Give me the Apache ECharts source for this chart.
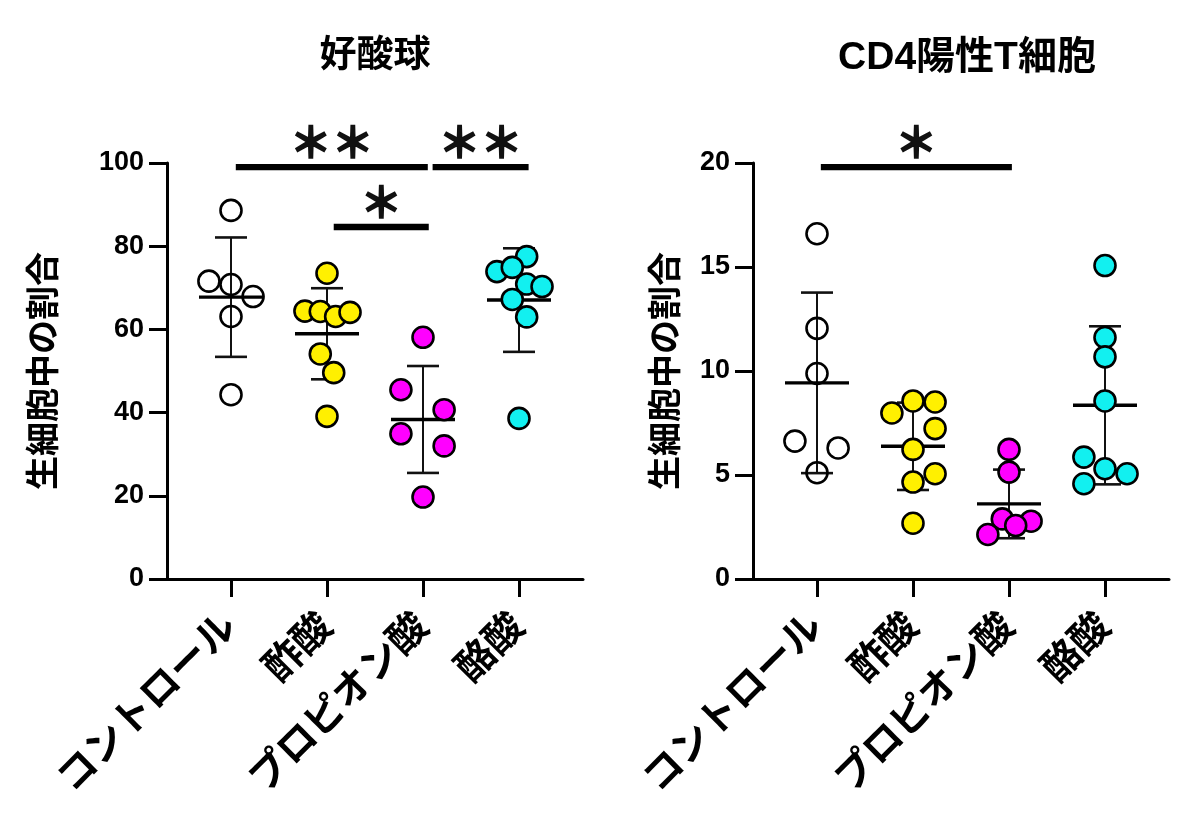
<!DOCTYPE html>
<html>
<head>
<meta charset="utf-8">
<script src="https://cdn.jsdelivr.net/npm/echarts@6/dist/echarts.min.js"></script>
<style>
html,body{margin:0;padding:0;background:#fff;}
#chart{width:1200px;height:817px;}
</style>
</head>
<body>
<div id="chart"></div>
<script>
// ---------- data ----------
const categories = ['コントロール', '酢酸', 'プロピオン酸', '酪酸'];
const titles = ['好酸球', 'CD4陽性T細胞'];
const yAxisName = '生細胞中の割合';
const eosTicks = { min: 0, max: 100, interval: 20 };
const cd4Ticks = { min: 0, max: 20, interval: 5 };

// each point: [horizontal jitter (category units), value]
const eosControl   = [[0, 88.6], [-0.23, 71.6], [0, 70.8], [0.23, 67.9], [0, 63.1], [0, 44.3]];
const eosAcetic    = [[0, 73.5], [-0.23, 64.4], [-0.07, 64.3], [0.09, 63.1], [0.24, 64.1], [-0.07, 54.1], [0.07, 49.6], [0, 39.1]];
const eosPropionic = [[0, 58.1], [-0.23, 45.5], [0.22, 40.7], [-0.23, 34.9], [0.22, 32.0], [0, 19.7]];
const eosButyric   = [[0.08, 77.5], [-0.23, 73.9], [-0.07, 74.9], [0.08, 70.9], [0.24, 70.3], [-0.07, 67.2], [0.08, 63.0], [0, 38.6]];
const eosMean = [67.75, 58.95, 38.35, 67.05];
const eosSD   = [14.35, 10.95, 12.85, 12.45];

const cd4Control   = [[0, 16.6], [0, 12.05], [0, 9.88], [-0.23, 6.63], [0.22, 6.30], [0, 5.11]];
const cd4Acetic    = [[-0.22, 7.98], [0, 8.56], [0.23, 8.51], [0.23, 7.23], [0, 6.23], [0.23, 5.06], [0, 4.66], [0, 2.68]];
const cd4Propionic = [[0, 6.23], [0, 5.14], [-0.07, 2.89], [0.23, 2.78], [0.07, 2.57], [-0.22, 2.14]];
const cd4Butyric   = [[0, 15.07], [0, 11.61], [0, 10.68], [0, 8.56], [-0.22, 5.86], [0, 5.30], [0.23, 5.06], [-0.22, 4.58]];
const cd4Mean = [9.43, 6.38, 3.61, 8.35];
const cd4SD   = [4.34, 2.10, 1.65, 3.80];

// significance bars: [x start, x end, y, label]
const eosSig = [[1.05, 3.05, 99.0, '＊＊'], [3.10, 4.10, 99.0, '＊＊'], [2.07, 3.06, 84.6, '＊']];
const cd4Sig = [[1.04, 3.03, 19.8, '＊']];

const groupColors = ['rgba(255,255,255,0)', '#FFF000', '#FF00FF', '#12F0F0'];

// ---------- chart ----------
const FONT = '"Liberation Sans", "Noto Sans CJK JP", Arial, sans-serif';
const chart = echarts.init(document.getElementById('chart'));

function xAxisFor(gridIndex) {
  return {
    type: 'value', gridIndex: gridIndex,
    min: 1 - 2 / 3, max: 4 + 2 / 3,
    splitLine: { show: false },
    axisLine: { show: true, lineStyle: { color: '#000', width: 3 } },
    axisTick: { show: true, customValues: [1, 2, 3, 4], length: 18, lineStyle: { color: '#000', width: 3 } },
    axisLabel: {
      customValues: [1, 2, 3, 4],
      formatter: v => categories[Math.round(v) - 1],
      rotate: 45, margin: 42,
      fontFamily: FONT, fontWeight: 'bold', fontSize: 39, color: '#000'
    }
  };
}
function yAxisFor(gridIndex, t, gap) {
  return {
    type: 'value', gridIndex: gridIndex,
    min: t.min, max: t.max, interval: t.interval,
    name: yAxisName, nameLocation: 'middle', nameGap: gap, nameRotate: 90,
    nameTextStyle: { fontFamily: FONT, fontWeight: 'bold', fontSize: 34, color: '#000' },
    splitLine: { show: false },
    axisLine: { show: true, lineStyle: { color: '#000', width: 3 } },
    axisTick: { show: true, length: 18, lineStyle: { color: '#000', width: 3 } },
    axisLabel: { margin: 23, fontFamily: FONT, fontWeight: 'bold', fontSize: 27, color: '#000' }
  };
}

function errorSeries(gridIndex, means, sds) {
  return {
    type: 'custom', xAxisIndex: gridIndex, yAxisIndex: gridIndex, z: 2,
    data: means.map((m, i) => [i + 1, m, sds[i]]),
    renderItem: function (params, api) {
      const x = api.value(0), m = api.value(1), s = api.value(2);
      const pm = api.coord([x, m]);
      const pt = api.coord([x, m + s]);
      const pb = api.coord([x, m - s]);
      return {
        type: 'group',
        children: [
          { type: 'line', shape: { x1: pm[0], y1: pt[1], x2: pm[0], y2: pb[1] }, style: { stroke: '#111', lineWidth: 2 } },
          { type: 'line', shape: { x1: pm[0] - 16, y1: pt[1], x2: pm[0] + 16, y2: pt[1] }, style: { stroke: '#111', lineWidth: 2.6 } },
          { type: 'line', shape: { x1: pm[0] - 16, y1: pb[1], x2: pm[0] + 16, y2: pb[1] }, style: { stroke: '#111', lineWidth: 2.6 } },
          { type: 'line', shape: { x1: pm[0] - 32, y1: pm[1], x2: pm[0] + 32, y2: pm[1] }, style: { stroke: '#000', lineWidth: 3.4 } }
        ]
      };
    }
  };
}

function pointSeries(gridIndex, groups) {
  return groups.map((g, i) => ({
    type: 'scatter', xAxisIndex: gridIndex, yAxisIndex: gridIndex, z: 3,
    symbol: 'circle', symbolSize: 21,
    itemStyle: { color: groupColors[i], borderColor: '#000', borderWidth: 2.6, opacity: 1 },
    emphasis: { disabled: true },
    data: g.map(p => [i + 1 + p[0], p[1]])
  }));
}

function sigSeries(gridIndex, bars) {
  return {
    type: 'custom', xAxisIndex: gridIndex, yAxisIndex: gridIndex, z: 4, clip: false,
    data: bars.map(b => [b[0], b[1], b[2]]),
    renderItem: function (params, api) {
      const b = bars[params.dataIndex];
      const p1 = api.coord([b[0], b[2]]);
      const p2 = api.coord([b[1], b[2]]);
      return {
        type: 'group',
        children: [
          { type: 'rect', shape: { x: p1[0], y: p1[1] - 3.2, width: p2[0] - p1[0], height: 6.4 }, style: { fill: '#000' } },
          { type: 'text', style: { x: (p1[0] + p2[0]) / 2, y: p1[1] - 25, text: b[3], align: 'center', verticalAlign: 'middle',
              font: 'bold 42px "Noto Sans CJK JP", sans-serif', fill: '#111', stroke: '#111', lineWidth: 1.6 } }
        ]
      };
    }
  };
}

const option = {
  backgroundColor: '#fff',
  animation: false,
  title: [
    { text: titles[0], left: 370, top: 33, textAlign: 'center',
      textStyle: { fontFamily: FONT, fontWeight: 'bold', fontSize: 37, color: '#000' } },
    { text: titles[1], left: 962, top: 34, textAlign: 'center',
      textStyle: { fontFamily: FONT, fontWeight: 'bold', fontSize: 39, color: '#000' } }
  ],
  grid: [
    { left: 167, top: 163, width: 416, height: 416, containLabel: false },
    { left: 753, top: 163, width: 416, height: 416, containLabel: false }
  ],
  xAxis: [xAxisFor(0), xAxisFor(1)],
  yAxis: [yAxisFor(0, eosTicks, 104), yAxisFor(1, cd4Ticks, 68)],
  series: [
    errorSeries(0, eosMean, eosSD),
    ...pointSeries(0, [eosControl, eosAcetic, eosPropionic, eosButyric]),
    sigSeries(0, eosSig),
    errorSeries(1, cd4Mean, cd4SD),
    ...pointSeries(1, [cd4Control, cd4Acetic, cd4Propionic, cd4Butyric]),
    sigSeries(1, cd4Sig)
  ]
};
chart.setOption(option);
</script>
</body>
</html>
